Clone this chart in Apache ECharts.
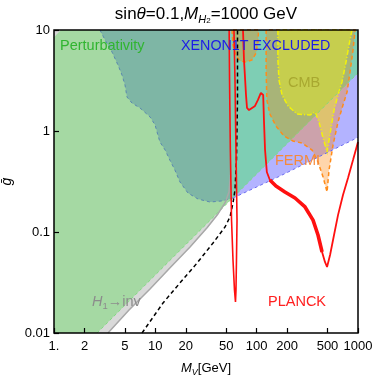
<!DOCTYPE html>
<html>
<head>
<meta charset="utf-8">
<script src="https://cdn.jsdelivr.net/npm/echarts@6/dist/echarts.min.js"></script>
<style>
  html, body { margin: 0; padding: 0; background: #fff; }
  #chart { width: 374px; height: 377px; }
</style>
</head>
<body>
<div id="chart"></div>
<script>
// axis ticks
const xTicks = [1, 2, 5, 10, 20, 50, 100, 200, 500, 1000];
const xTickLabels = ['1.', '2', '5', '10', '20', '50', '100', '200', '500', '1000'];
const yTicks = [0.01, 0.1, 1, 10];
const yTickLabels = ['0.01', '0.1', '1', '10'];

// boundaries, points are [M_V (GeV), gbar]
const perturbLine = [[2.66, 0.01], [1000, 3.76]];
const h1invLine = [[3.41, 0.01], [5.50, 0.0169], [8.86, 0.0273], [13.9, 0.0441], [22.0, 0.0710],
  [32.4, 0.110], [41.5, 0.151], [48.7, 0.194], [53.3, 0.249], [55.5, 0.40], [55.5, 10]];
const xenonCurve = [[2.84, 10], [3.19, 7.96], [3.74, 6.05], [4.28, 4.50], [4.69, 3.58], [5.02, 2.85],
  [5.25, 2.17], [5.89, 1.89], [7.06, 1.69], [8.86, 1.38], [9.93, 1.15], [10.6, 0.912], [11.1, 0.778],
  [12.5, 0.648], [13.9, 0.516], [15.6, 0.411], [17.5, 0.313], [21.0, 0.243], [26.4, 0.212],
  [34.7, 0.198], [45.5, 0.203], [58.4, 0.217]];
const xenonLine = [[58.4, 0.217], [170, 0.358], [1000, 0.865]];
const fermiTop = [[57.1, 10], [58.4, 7.10], [62.5, 5.53], [68.5, 4.93], [78.5, 4.82], [90.0, 5.05],
  [98.5, 5.92], [103, 7.60], [104.3, 10]];
const fermiMain = [[124, 10], [124, 4.02], [126, 2.03], [135, 1.47], [155, 1.12], [186, 0.892],
  [228, 0.796], [280, 0.760], [352, 0.648], [403, 0.493], [452, 0.351], [495, 0.249], [518, 0.411],
  [567, 0.726], [635, 1.23], [711, 1.81], [780, 2.43], [834, 3.84], [893, 6.34], [935, 10]];
const cmbRegion = [[162, 10], [162, 5.05], [166, 3.20], [178, 2.27], [204, 1.77], [250, 1.47],
  [336, 1.44], [377, 1.54], [412, 1.23], [452, 0.853], [495, 0.619], [530, 0.933], [580, 1.61],
  [635, 2.27], [695, 3.06], [762, 4.82], [815, 7.10], [873, 10]];
const planckNarrow = [[53.5, 10], [54.0, 3.2], [55.0, 0.648], [56.5, 0.131], [58.4, 0.0528],
  [60.4, 0.0267], [61.8, 0.0203], [62.5, 0.0267], [63.2, 0.0528], [64.0, 0.131], [62.5, 0.648],
  [61.1, 3.2], [59.7, 10]];
const planckMain = [[73.3, 10], [75.0, 5.05], [78.5, 2.27], [80.3, 1.69], [84.0, 1.61], [90.0, 1.69],
  [96.3, 1.77], [103, 2.03], [110, 2.38], [116, 2.27], [118, 1.28], [121, 0.648], [126, 0.393],
  [135, 0.327], [155, 0.285], [190, 0.249], [239, 0.217], [300, 0.177], [360, 0.131], [403, 0.0933],
  [442, 0.0634], [472, 0.0505], [495, 0.045], [530, 0.0592], [580, 0.0933], [635, 0.147],
  [711, 0.232], [797, 0.343], [893, 0.516], [1000, 0.778]];
const dashedCurve = [[7.39, 0.01], [11.9, 0.0198], [17.5, 0.0313], [25.8, 0.0493], [37.1, 0.0778],
  [48.7, 0.112], [54.6, 0.141], [58.4, 0.194], [61.1, 0.261], [63.2, 0.516], [64.7, 2.03], [64.7, 10]];

// filled pieces of the plane
const grayRegion = h1invLine.concat([[1, 10], [1, 0.01]]);
const greenLeft = [[1, 8.5], [1.17, 10], [55.5, 10], [55.5, 0.209], [2.66, 0.01], [1, 0.01]];
const xenonLeft = xenonCurve.slice(0, -1).concat([[55.5, 0.214], [55.5, 10]]);
const blueRight = [[55.5, 0.212]].concat(xenonLine.slice(1), [[1000, 10], [55.5, 10]]);
const tealRight = [[55.5, 0.209], [1000, 3.76], [1000, 10], [55.5, 10]];

const FONT = '"Liberation Sans", Arial, sans-serif';

function area(pts, style) {
  return {
    type: 'custom',
    silent: true,
    data: [pts[0]],
    renderItem: (params, api) => ({
      type: 'polygon',
      shape: { points: pts.map(p => api.coord(p)) },
      style: style
    })
  };
}

function curve(pts, color, width, type) {
  return {
    type: 'line',
    data: pts,
    symbol: 'none',
    silent: true,
    lineStyle: { color: color, width: width, type: type || 'solid' }
  };
}

function pick(ticks, labels) {
  return v => {
    const i = ticks.findIndex(t => Math.abs(t - v) / t < 1e-6);
    return i >= 0 ? labels[i] : '';
  };
}

const chart = echarts.init(document.getElementById('chart'));

chart.setOption({
  animation: false,
  grid: { left: 54, right: 16, top: 30, bottom: 44, containLabel: false, outerBoundsMode: 'none' },
  xAxis: {
    type: 'log',
    logBase: 10,
    min: 1,
    max: 1000,
    z: 60,
    axisLine: { show: false },
    splitLine: { show: false },
    axisTick: { inside: true, length: 5, customValues: xTicks, lineStyle: { color: '#000', width: 1.2 } },
    axisLabel: { customValues: xTicks, formatter: pick(xTicks, xTickLabels), color: '#000',
      fontSize: 13, fontFamily: FONT, margin: 7, hideOverlap: false },
    name: '{i|M}{s|V}{n|[GeV]}',
    nameLocation: 'middle',
    nameGap: 26,
    nameTextStyle: {
      rich: {
        i: { fontSize: 13, fontStyle: 'italic', fontFamily: FONT, color: '#000', lineHeight: 18 },
        s: { fontSize: 9, fontStyle: 'italic', fontFamily: FONT, color: '#000', lineHeight: 9, verticalAlign: 'bottom' },
        n: { fontSize: 13, fontFamily: FONT, color: '#000', lineHeight: 18 }
      }
    }
  },
  yAxis: {
    type: 'log',
    logBase: 10,
    min: 0.01,
    max: 10,
    z: 60,
    axisLine: { show: false },
    splitLine: { show: false },
    axisTick: { inside: true, length: 5, customValues: yTicks, lineStyle: { color: '#000', width: 1.2 } },
    axisLabel: { customValues: yTicks, formatter: pick(yTicks, yTickLabels), color: '#000',
      fontSize: 13, fontFamily: FONT, margin: 4, hideOverlap: false },
    name: 'ḡ',
    nameLocation: 'middle',
    nameGap: 36,
    nameRotate: 90,
    nameTextStyle: { fontSize: 14, fontStyle: 'italic', fontFamily: FONT, color: '#000' }
  },
  series: [
    area(grayRegion, { fill: '#d9d9d9' }),
    area(greenLeft, { fill: '#a5d9a3' }),
    area(xenonLeft, { fill: '#7eb6a5' }),
    area(blueRight, { fill: '#b3b3ff' }),
    area(tealRight, { fill: '#7eceb4' }),
    area(fermiTop, { fill: 'rgba(255,128,0,0.33)', stroke: '#ff8c1a', lineWidth: 1.5, lineDash: [4, 3] }),
    area(fermiMain, { fill: 'rgba(255,128,0,0.33)', stroke: '#ff8c1a', lineWidth: 1.5, lineDash: [4, 3] }),
    area(cmbRegion, { fill: 'rgba(255,255,0,0.35)', stroke: '#f2f20a', lineWidth: 1.5, lineDash: [5, 2, 1, 2] }),
    curve(perturbLine, '#80d880', 1, [3, 3]),
    curve(xenonCurve, '#5a86b0', 1, [3, 3]),
    curve(xenonLine, '#6a6af0', 1, [3, 3]),
    curve(h1invLine.slice(0, -1), '#a8a8a8', 1.5),
    curve(dashedCurve, '#000', 1.5, [4, 3]),
    curve(planckNarrow, '#ff1010', 1.6),
    curve(planckMain, '#ff1010', 1.8),
    curve(planckMain.slice(13, 21), '#ff1010', 3.6)
  ],
  graphic: [
    { type: 'rect', z: 100, shape: { x: 54, y: 30, width: 304, height: 303 },
      style: { fill: null, stroke: '#000', lineWidth: 1.5 } },
    { type: 'text', z: 101, x: 206, y: 14, style: {
      text: '{n|sin}{i|θ}{n|=0.1,}{i|M}{s|H}{t|2}{n|=1000 GeV}',
      align: 'center', verticalAlign: 'middle',
      rich: {
        n: { fontSize: 17, fontFamily: FONT, fill: '#000', lineHeight: 22 },
        i: { fontSize: 17, fontFamily: FONT, fontStyle: 'italic', fill: '#000', lineHeight: 22 },
        s: { fontSize: 11, fontFamily: FONT, fontStyle: 'italic', fill: '#000', lineHeight: 11, verticalAlign: 'bottom' },
        t: { fontSize: 8, fontFamily: FONT, fill: '#000', lineHeight: 7, verticalAlign: 'bottom' }
      } } },
    { type: 'text', z: 101, x: 60, y: 46, style: { text: 'Perturbativity', fill: '#30b530',
      fontSize: 14.5, fontFamily: FONT, verticalAlign: 'middle' } },
    { type: 'text', z: 101, x: 181, y: 46, style: { text: 'XENON1T EXCLUDED', fill: '#1c1ce8',
      fontSize: 14.3, fontFamily: FONT, verticalAlign: 'middle' } },
    { type: 'text', z: 101, x: 288, y: 83, style: { text: 'CMB', fill: '#a8a830',
      fontSize: 14.5, fontFamily: FONT, verticalAlign: 'middle' } },
    { type: 'text', z: 101, x: 275, y: 161, style: { text: 'FERMI', fill: '#f58a3c',
      fontSize: 14.5, fontFamily: FONT, verticalAlign: 'middle' } },
    { type: 'text', z: 101, x: 268, y: 302, style: { text: 'PLANCK', fill: '#ff2020',
      fontSize: 14.5, fontFamily: FONT, verticalAlign: 'middle' } },
    { type: 'text', z: 101, x: 92, y: 302, style: {
      text: '{i|H}{s|1}{n|→inv}', verticalAlign: 'middle',
      rich: {
        i: { fontSize: 14.5, fontStyle: 'italic', fontFamily: FONT, fill: '#8c8c8c', lineHeight: 18 },
        s: { fontSize: 9.5, fontFamily: FONT, fill: '#8c8c8c', lineHeight: 9, verticalAlign: 'bottom' },
        n: { fontSize: 14.5, fontFamily: FONT, fill: '#8c8c8c', lineHeight: 18 }
      } } }
  ]
});
</script>
</body>
</html>
